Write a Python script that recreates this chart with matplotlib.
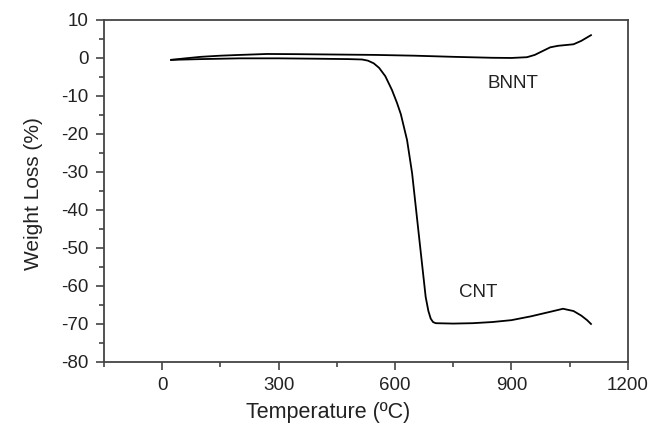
import matplotlib.pyplot as plt
from matplotlib.ticker import MultipleLocator

plt.rcParams['font.family'] = ['Liberation Sans', 'DejaVu Sans']
plt.rcParams['axes.unicode_minus'] = False

# values
bnnt_t = [23, 60, 100, 150, 200, 270, 350, 450, 550, 650, 750, 850, 900, 940, 960, 980, 1000, 1020, 1040, 1060, 1080, 1095, 1105]
bnnt_w = [-0.5, -0.1, 0.3, 0.6, 0.8, 1.05, 1.0, 0.9, 0.8, 0.6, 0.3, 0.05, 0.0, 0.2, 0.8, 1.8, 2.8, 3.2, 3.4, 3.6, 4.5, 5.4, 6.0]

cnt_t = [23, 100, 200, 300, 400, 480, 515, 530, 545, 559, 575, 592, 605, 615, 631, 644, 662, 679, 686, 692, 698, 705, 750, 800, 850, 900, 950, 1000, 1033, 1060, 1080, 1095, 1105]
cnt_w = [-0.5, -0.3, -0.1, -0.1, -0.2, -0.3, -0.4, -0.7, -1.4, -2.6, -4.8, -8.4, -11.8, -14.8, -21.6, -30.3, -47.1, -62.9, -66.6, -68.6, -69.5, -69.8, -69.9, -69.8, -69.5, -69.0, -68.0, -66.8, -66.0, -66.6, -67.8, -69.0, -70.0]

labels = {"BNNT": (905, -6.6), "CNT": (815, -61.8)}

fig = plt.figure(figsize=(6.54, 4.34), dpi=100)
ax = fig.add_axes([0.159, 0.166, 0.801, 0.788])
ax.plot(bnnt_t, bnnt_w, color='black', lw=1.3)
ax.plot(cnt_t, cnt_w, color='black', lw=1.3)
for name, (x, y) in labels.items():
    ax.text(x, y, name, fontsize=13.5, color='#222222', ha='center', va='center')

ax.set_xlim(-150, 1200)
ax.set_ylim(-80, 10)
ax.xaxis.set_major_locator(MultipleLocator(300))
ax.xaxis.set_minor_locator(MultipleLocator(150))
ax.yaxis.set_major_locator(MultipleLocator(10))
ax.yaxis.set_minor_locator(MultipleLocator(5))
ax.tick_params(which='both', direction='out', colors='#444444', labelcolor='#222222', labelsize=13.5)
ax.tick_params(which='major', length=6, width=1.2, pad=5)
ax.tick_params(which='minor', length=3.5, width=1.2)
for s in ax.spines.values():
    s.set_color('#444444')
    s.set_linewidth(1.3)
ax.set_xlabel("Temperature (ºC)", fontsize=15.5, color='#222222')
ax.set_ylabel("Weight Loss (%)", fontsize=15, color='#222222')
ax.xaxis.set_label_coords(0.427, -0.117)
ax.yaxis.set_label_coords(-0.116, 0.491)
fig.savefig('out.png', dpi=100)
